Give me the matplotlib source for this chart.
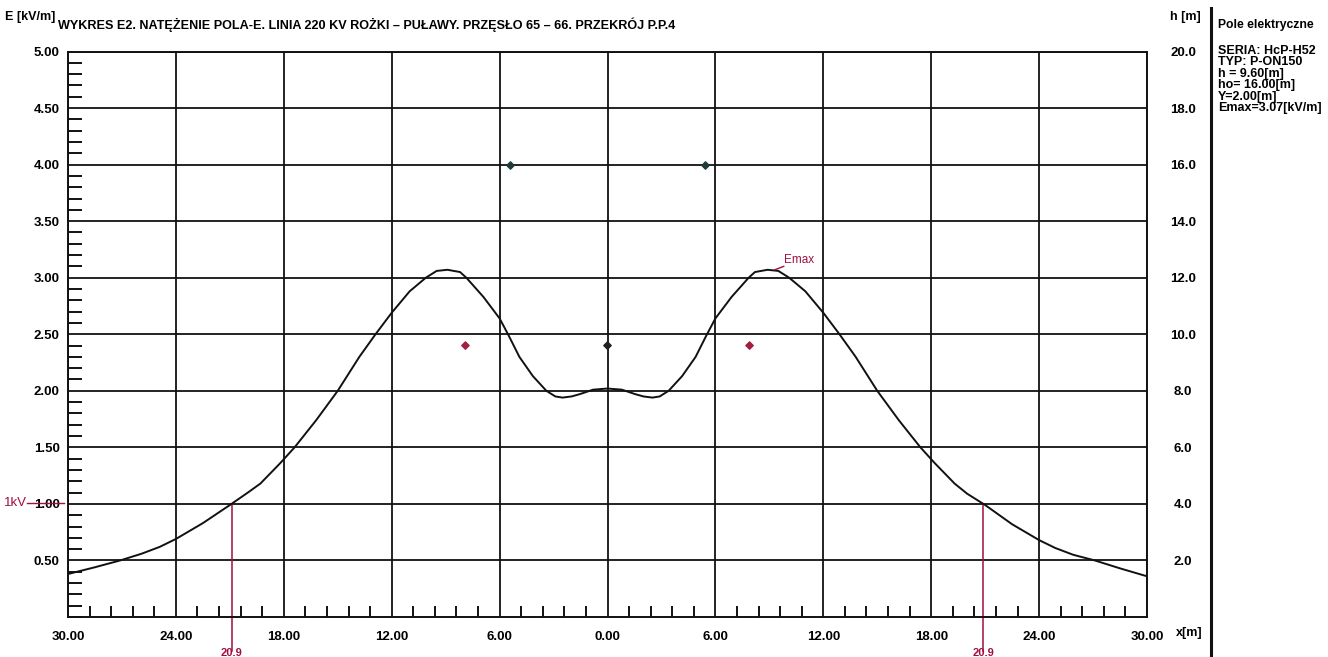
import matplotlib
matplotlib.use("Agg")
import matplotlib.pyplot as plt
from matplotlib.ticker import MultipleLocator
from matplotlib.lines import Line2D

plt.rcParams['font.family'] = ['Liberation Sans', 'DejaVu Sans']

# field strength E [kV/m] along the cross-section x [m]
x_m = [-30, -28.5, -27.1, -25.9, -24.9, -24, -22.5, -21, -20, -19.3, -18.2, -17.4,
       -16.2, -15, -13.8, -12.9, -12, -11, -10.1, -9.5, -8.9, -8.2, -7.85, -6.9,
       -6, -5.5, -4.9, -4.15, -3.4, -2.9, -2.5, -2.0, -1.55, -0.8, 0,
       0.8, 1.55, 2.0, 2.5, 2.9, 3.4, 4.15, 4.9, 5.5, 6, 6.9, 7.85, 8.2, 8.9,
       9.5, 10.1, 11, 12, 12.9, 13.8, 15, 16.2, 17.4, 18.2, 19.3, 20, 21, 22.5,
       24, 24.9, 25.9, 27.1, 28.5, 30]
E_kv = [0.38, 0.44, 0.50, 0.56, 0.62, 0.69, 0.83, 0.99, 1.10, 1.18, 1.36, 1.50,
        1.74, 2.00, 2.30, 2.50, 2.69, 2.88, 3.00, 3.06, 3.07, 3.05, 3.00, 2.83,
        2.64, 2.49, 2.30, 2.13, 2.00, 1.95, 1.94, 1.95, 1.97, 2.01, 2.02,
        2.01, 1.97, 1.95, 1.94, 1.95, 2.00, 2.13, 2.30, 2.49, 2.64, 2.83, 3.00, 3.05, 3.07,
        3.06, 3.00, 2.88, 2.69, 2.50, 2.30, 2.00, 1.74, 1.50, 1.36, 1.18, 1.09, 0.99, 0.82,
        0.68, 0.61, 0.55, 0.50, 0.43, 0.36]

# conductors (x, h) and ground wires
phase_x = [-7.9, 0.0, 7.9]
phase_h = [9.6, 9.6, 9.6]
phase_col = ['#a02040', '#202020', '#a02040']
wire_x = [-5.4, 5.4]
wire_h = [16.0, 16.0]

x_major = [-30, -24, -18, -12, -6, 0, 6, 12, 18, 24, 30]
x_labels = ['30.00', '24.00', '18.00', '12.00', '6.00', '0.00', '6.00', '12.00', '18.00', '24.00', '30.00']
y_major = [0.5, 1.0, 1.5, 2.0, 2.5, 3.0, 3.5, 4.0, 4.5, 5.0]
y_labels = ['0.50', '1.00', '1.50', '2.00', '2.50', '3.00', '3.50', '4.00', '4.50', '5.00']
h_major = [2, 4, 6, 8, 10, 12, 14, 16, 18, 20]
h_labels = ['2.0', '4.0', '6.0', '8.0', '10.0', '12.0', '14.0', '16.0', '18.0', '20.0']

x_1kv = [-20.9, 20.9]
e_max_x = 8.9
e_max = 3.07

info_lines = ['SERIA: HcP-H52', 'TYP: P-ON150', 'h = 9.60[m]', 'ho= 16.00[m]',
              'Y=2.00[m]', 'Emax=3.07[kV/m]']

RED = '#a01040'
W, H = 1328, 657

fig = plt.figure(figsize=(W / 100, H / 100), dpi=100)
ax = fig.add_axes([68 / W, 1 - 617 / H, (1147 - 68) / W, (617 - 51.5) / H])
ax.set_xlim(-30, 30)
ax.set_ylim(0, 5)

for v in x_major:
    ax.axvline(v, color='#111111', lw=1.3, zorder=1)
for v in y_major:
    ax.axhline(v, color='#111111', lw=1.3, zorder=1)
for s in ax.spines.values():
    s.set_linewidth(1.4)
    s.set_color('#111111')

ax.plot(x_m, E_kv, color='#111111', lw=1.4, zorder=3)

ax2 = ax.twinx()
ax2.set_ylim(0, 20)
ax2.scatter(phase_x, phase_h, marker='D', s=14, c=phase_col, zorder=4)
ax2.scatter(wire_x, wire_h, marker='D', s=14, c='#1e3c3c', zorder=4)
ax2.set_yticks(h_major)
ax2.set_yticklabels(h_labels, fontweight='bold', fontsize=9.5)
ax2.tick_params(axis='y', length=0, pad=26)
for lab in ax2.get_yticklabels():
    lab.set_horizontalalignment('center')
for s in ax2.spines.values():
    s.set_visible(False)

ax.set_xticks(x_major)
ax.set_xticklabels(x_labels, fontweight='bold', fontsize=9.5)
ax.set_yticks(y_major)
ax.set_yticklabels(y_labels, fontweight='bold', fontsize=9.5)
ax.xaxis.set_minor_locator(MultipleLocator(1.2))
ax.yaxis.set_minor_locator(MultipleLocator(0.1))
ax.tick_params(which='major', length=0)
ax.tick_params(axis='x', which='major', pad=10)
ax.tick_params(axis='y', which='major', pad=6)
ax.tick_params(which='minor', direction='in', length=8, width=1.4, color='#111111')
ax.tick_params(axis='y', which='minor', length=10)

# 1 kV markers
for xv in x_1kv:
    ax.plot([xv, xv], [1.0, -0.3], color=RED, lw=1.1, zorder=2, clip_on=False)
    ax.text(xv, -0.27, '%.1f' % abs(xv), color=RED, fontsize=8, fontweight='bold',
            ha='center', va='top', clip_on=False)
fig.add_artist(Line2D([27 / W, 64 / W], [1 - 503 / H, 1 - 503 / H], color=RED, lw=1.0))
fig.text(4 / W, 1 - 503 / H, '1kV', color=RED, fontsize=9.5, va='center', ha='left')

# Emax label
ax.plot([e_max_x + 0.4, e_max_x + 0.9], [e_max, e_max + 0.03], color=RED, lw=1.0, zorder=3)
ax.text(e_max_x + 0.9, e_max + 0.09, 'Emax', color=RED, fontsize=8.5, va='center', ha='left')

fig.text(5 / W, 1 - 17 / H, 'E [kV/m]', fontsize=9, fontweight='bold', va='center')
fig.text(58 / W, 1 - 25 / H,
         'WYKRES E2. NATĘŻENIE POLA-E. LINIA 220 KV ROŻKI – PUŁAWY. PRZĘSŁO 65 – 66. PRZEKRÓJ P.P.4',
         fontsize=9.1, fontweight='bold', va='center')
fig.text(1170 / W, 1 - 17 / H, 'h [m]', fontsize=9, fontweight='bold', va='center')
fig.text(1176 / W, 1 - 633 / H, 'x[m]', fontsize=9, fontweight='bold', va='center')

# info panel
fig.add_artist(Line2D([1211 / W, 1211 / W], [1 - 8 / H, 1 - 655 / H], color='#111111', lw=2.2))
fig.text(1218 / W, 1 - 25 / H, 'Pole elektryczne', fontsize=8.7, fontweight='bold', va='center')
for i, line in enumerate(info_lines):
    fig.text(1218 / W, 1 - (51 + 11.4 * i) / H, line, fontsize=9, fontweight='bold',
             va='center')

fig.savefig('out.png', dpi=100)
